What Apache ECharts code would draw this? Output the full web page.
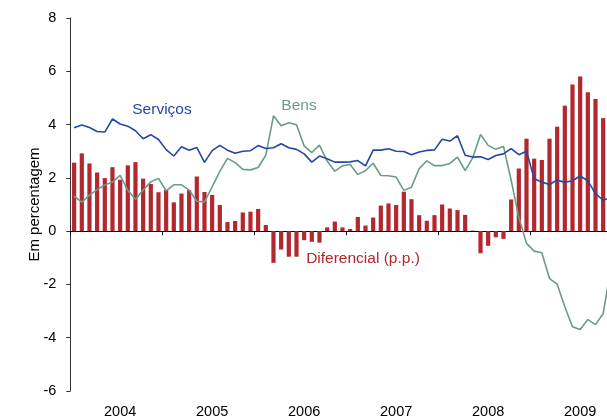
<!DOCTYPE html>
<html><head><meta charset="utf-8">
<script src="https://cdn.jsdelivr.net/npm/echarts@6/dist/echarts.min.js"></script>
<style>html,body{margin:0;padding:0;background:#fff}#c{width:607px;height:420px}</style>
</head><body><div id="c"></div>
<script>
// Monthly data, Jan 2004 onwards
const years = ['2004', '2005', '2006', '2007', '2008', '2009'];
const months = [];
years.forEach(y => { for (let m = 1; m <= 12; m++) months.push(y + '-' + (m < 10 ? '0' : '') + m); });
const monthsShown = months.slice(0, 70);

const diferencial = [
  2.57, 2.92, 2.54, 2.20, 1.99, 2.40, 1.93, 2.47, 2.59, 1.97, 1.77, 1.46,
  1.55, 1.08, 1.41, 1.54, 2.05, 1.47, 1.36, 0.98, 0.34, 0.38, 0.70, 0.73,
  0.83, 0.23, -1.19, -0.69, -0.96, -0.96, -0.34, -0.40, -0.43, 0.14, 0.36, 0.14,
  0.08, 0.53, 0.21, 0.51, 0.96, 1.04, 0.98, 1.48, 1.20, 0.60, 0.39, 0.60,
  1.00, 0.85, 0.79, 0.61, 0.02, -0.83, -0.55, -0.23, -0.29, 1.19, 2.35, 3.47,
  2.72, 2.67, 3.47, 3.92, 4.71, 5.50, 5.80, 5.21, 4.96, 4.24
];

const servicos = [
  3.88, 3.98, 3.89, 3.74, 3.72, 4.21, 4.02, 3.94, 3.77, 3.47, 3.62, 3.44,
  3.06, 2.82, 3.17, 3.04, 3.14, 2.58, 3.02, 3.22, 3.04, 2.92, 3.00, 3.02,
  3.21, 3.10, 3.13, 3.28, 3.13, 3.07, 2.90, 2.59, 2.82, 2.72, 2.59, 2.59,
  2.60, 2.65, 2.45, 3.04, 3.04, 3.09, 3.00, 2.99, 2.87, 2.97, 3.03, 3.05,
  3.45, 3.38, 3.58, 2.85, 2.78, 2.79, 2.69, 2.84, 2.90, 3.10, 2.87, 3.00,
  1.97, 1.84, 1.75, 1.92, 1.83, 1.89, 2.07, 1.89, 1.41, 1.16, 1.26
];

const bens = [
  1.31, 1.09, 1.35, 1.56, 1.73, 1.84, 2.09, 1.53, 1.20, 1.54, 1.85, 1.98,
  1.51, 1.74, 1.74, 1.54, 1.12, 1.10, 1.66, 2.24, 2.73, 2.57, 2.32, 2.30,
  2.39, 2.85, 4.33, 3.96, 4.07, 3.99, 3.20, 2.95, 3.23, 2.63, 2.25, 2.45,
  2.50, 2.13, 2.27, 2.55, 2.09, 2.08, 2.03, 1.53, 1.65, 2.34, 2.64, 2.46,
  2.46, 2.54, 2.78, 2.27, 2.76, 3.63, 3.22, 3.07, 3.18, 1.91, 0.52, -0.46,
  -0.75, -0.81, -1.78, -1.99, -2.84, -3.59, -3.69, -3.32, -3.51, -3.09, -1.40
];

const seriesNames = ['Diferencial (p.p.)', 'Serviços', 'Bens'];
const yAxisName = 'Em percentagem';

const FONT = '"Liberation Sans", Arial, sans-serif';
const RED = '#b3272e', BLUE = '#2446a4', GREEN = '#6b9b87';

const toXY = arr => arr.map((v, i) => [i + 0.5, v]);

const chart = echarts.init(document.getElementById('c'), null, { renderer: 'canvas' });
chart.setOption({
  animation: false,
  backgroundColor: '#fff',
  grid: { left: 70.3, right: 0, top: 18, bottom: 29, containLabel: false },
  xAxis: [
    {
      type: 'value', min: 0, max: 70, interval: 12, position: 'bottom',
      axisLine: { show: true, onZero: true, lineStyle: { color: '#000', width: 1 } },
      axisTick: { show: true, length: 4, lineStyle: { color: '#000', width: 1 } },
      axisLabel: { show: false },
      splitLine: { show: false }
    },
    {
      type: 'category', data: monthsShown, boundaryGap: true, position: 'bottom',
      axisLine: { show: false, onZero: false },
      axisTick: { show: false },
      splitLine: { show: false },
      axisLabel: {
        show: true, margin: 13, fontSize: 14.5, color: '#000', fontFamily: FONT,
        interval: idx => idx % 12 === 6,
        formatter: v => v.slice(0, 4)
      }
    }
  ],
  yAxis: {
    type: 'value', min: -6, max: 8, interval: 2,
    name: yAxisName, nameLocation: 'middle', nameGap: 28, nameMoveOverlap: false,
    nameTextStyle: { fontSize: 15, color: '#000', fontFamily: FONT },
    axisLine: { show: true, lineStyle: { color: '#333', width: 1 } },
    axisTick: { show: true, length: 4, lineStyle: { color: '#333' } },
    axisLabel: { margin: 14, fontSize: 14.5, color: '#000', fontFamily: FONT },
    splitLine: { show: false }
  },
  series: [
    {
      name: seriesNames[0], type: 'bar', xAxisIndex: 0, yAxisIndex: 0,
      data: toXY(diferencial), barWidth: 4.2,
      itemStyle: { color: RED }
    },
    {
      name: seriesNames[2], type: 'line', xAxisIndex: 0, data: toXY(bens),
      symbol: 'none', clip: true,
      lineStyle: { color: GREEN, width: 1.6 }
    },
    {
      name: seriesNames[1], type: 'line', xAxisIndex: 0, data: toXY(servicos),
      symbol: 'none', clip: true,
      lineStyle: { color: BLUE, width: 1.6 }
    }
  ],
  graphic: [
    { type: 'text', x: 162, y: 110, style: { text: seriesNames[1], fill: BLUE, fontSize: 15.5, fontFamily: FONT, align: 'center', verticalAlign: 'middle', textAlign: 'center', textVerticalAlign: 'middle' } },
    { type: 'text', x: 299, y: 106, style: { text: seriesNames[2], fill: GREEN, fontSize: 15.5, fontFamily: FONT, align: 'center', verticalAlign: 'middle', textAlign: 'center', textVerticalAlign: 'middle' } },
    { type: 'text', x: 363, y: 259, style: { text: seriesNames[0], fill: RED, fontSize: 15.5, fontFamily: FONT, align: 'center', verticalAlign: 'middle', textAlign: 'center', textVerticalAlign: 'middle' } }
  ]
});
</script>
</body></html>
